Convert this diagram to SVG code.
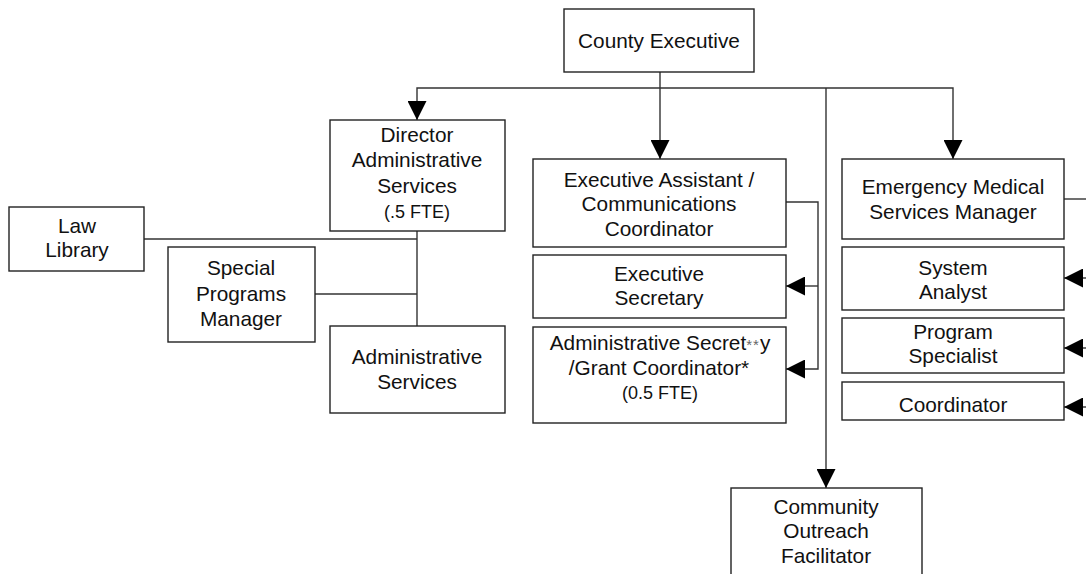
<svg xmlns="http://www.w3.org/2000/svg" width="1086" height="574" viewBox="0 0 1086 574">
<style>
.box{fill:#fff;stroke:#222;stroke-width:1.4}
.ln{fill:none;stroke:#333;stroke-width:1.4}
text{font-family:"Liberation Sans",Arial,sans-serif;font-size:20.8px;fill:#111;text-anchor:middle}
.sm{font-size:18px}
.ast{font-size:15px;fill:#666}
</style>
<defs>
<marker id="ah" markerUnits="userSpaceOnUse" markerWidth="19" markerHeight="19" refX="18" refY="9" orient="auto" viewBox="0 0 18 18">
<path d="M0,0 L18,9 L0,18 z" fill="#000"/>
</marker>
</defs>
<rect width="1086" height="574" fill="#fff"/>
<g id="connectors">
<path class="ln" d="M660,72 L660,159" marker-end="url(#ah)"/>
<path class="ln" d="M660,88 L417,88 L417,120" marker-end="url(#ah)"/>
<path class="ln" d="M660,88 L953,88 L953,159" marker-end="url(#ah)"/>
<path class="ln" d="M826,88 L826,488" marker-end="url(#ah)"/>
<path class="ln" d="M417,231 L417,326"/>
<path class="ln" d="M144,239 L417,239"/>
<path class="ln" d="M315,294 L417,294"/>
<path class="ln" d="M786,202 L818,202 L818,369 L786,369" marker-end="url(#ah)"/>
<path class="ln" d="M818,286 L786,286" marker-end="url(#ah)"/>
<path class="ln" d="M1064,199 L1086,199"/>
<path class="ln" d="M1086,278 L1064,278" marker-end="url(#ah)"/>
<path class="ln" d="M1086,348 L1064,348" marker-end="url(#ah)"/>
<path class="ln" d="M1086,407 L1064,407" marker-end="url(#ah)"/>
</g>
<g id="county-executive">
<rect class="box" x="564" y="9" width="190" height="63"/>
<text x="659" y="48">County Executive</text>
</g>
<g id="director-admin">
<rect class="box" x="330" y="120" width="175" height="111"/>
<text x="417" y="142">Director</text>
<text x="417" y="167">Administrative</text>
<text x="417" y="193">Services</text>
<text class="sm" x="417" y="218">(.5 FTE)</text>
</g>
<g id="law-library">
<rect class="box" x="9" y="207" width="135" height="64"/>
<text x="77" y="233">Law</text>
<text x="77" y="257">Library</text>
</g>
<g id="special-programs">
<rect class="box" x="168" y="247" width="147" height="95"/>
<text x="241" y="275">Special</text>
<text x="241" y="301">Programs</text>
<text x="241" y="326">Manager</text>
</g>
<g id="admin-services">
<rect class="box" x="330" y="326" width="175" height="87"/>
<text x="417" y="364">Administrative</text>
<text x="417" y="389">Services</text>
</g>
<g id="exec-assistant">
<rect class="box" x="533" y="159" width="253" height="88"/>
<text x="659" y="187">Executive Assistant /</text>
<text x="659" y="211">Communications</text>
<text x="659" y="236">Coordinator</text>
</g>
<g id="exec-secretary">
<rect class="box" x="533" y="255" width="253" height="63"/>
<text x="659" y="281">Executive</text>
<text x="659" y="305">Secretary</text>
</g>
<g id="admin-secretary">
<rect class="box" x="533" y="327" width="253" height="96"/>
<text x="660" y="350">Administrative Secret<tspan class="ast" letter-spacing="1">**</tspan>y</text>
<text x="659" y="375">/Grant Coordinator*</text>
<text class="sm" x="660" y="399">(0.5 FTE)</text>
</g>
<g id="ems-manager">
<rect class="box" x="842" y="159" width="222" height="80"/>
<text x="953" y="194">Emergency Medical</text>
<text x="953" y="219">Services Manager</text>
</g>
<g id="system-analyst">
<rect class="box" x="842" y="247" width="222" height="63"/>
<text x="953" y="275">System</text>
<text x="953" y="299">Analyst</text>
</g>
<g id="program-specialist">
<rect class="box" x="842" y="318" width="222" height="55"/>
<text x="953" y="339">Program</text>
<text x="953" y="363">Specialist</text>
</g>
<g id="coordinator">
<rect class="box" x="842" y="382" width="222" height="38"/>
<text x="953" y="412">Coordinator</text>
</g>
<g id="community-outreach">
<rect class="box" x="731" y="488" width="191" height="120"/>
<text x="826" y="514">Community</text>
<text x="826" y="538">Outreach</text>
<text x="826" y="563">Facilitator</text>
</g>
</svg>
